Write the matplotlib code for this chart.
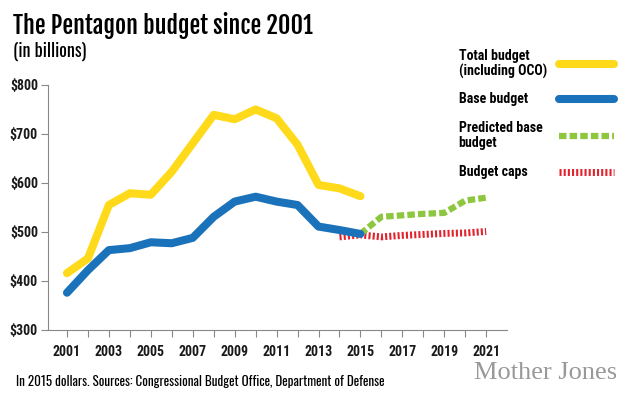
import matplotlib.pyplot as plt
from matplotlib.lines import Line2D

# values (billions, 2015 dollars)
years = list(range(2001, 2016))
total_budget = [416, 446, 555, 579, 576, 623, 681, 739, 730, 750, 732, 678, 596, 589, 573]
base_budget = [376, 422, 463, 467, 479, 477, 488, 531, 562, 572, 562, 555, 511, 504, 496]
pred_years = list(range(2015, 2022))
predicted_base = [496, 531, 534, 537, 539, 564, 570]
cap_years = list(range(2014, 2022))
budget_caps = [490, 494, 490, 493, 495, 497, 498, 501]

yticks = [300, 400, 500, 600, 700, 800]
ytick_labels = ['$300', '$400', '$500', '$600', '$700', '$800']
xlabel_years = list(range(2001, 2022, 2))

YELLOW = '#FFDA1A'
BLUE = '#1A73BA'
GREEN = '#8DC63F'
RED = '#E2232E'
GRAY = '#888888'

FONT = ['Oswald', 'DejaVu Sans']
BOLD = ['Roboto Condensed', 'DejaVu Sans']
TITLE = ['Fjalla One', 'DejaVu Sans']

fig = plt.figure(figsize=(6.3, 3.97), dpi=100)
ax = fig.add_axes([0.0757, 0.1688, 0.7293, 0.6172])

ax.plot(years, total_budget, color=YELLOW, lw=5.8, solid_capstyle='round',
        solid_joinstyle='round', zorder=3)
ax.plot(pred_years, predicted_base, color=GREEN, lw=4.5, dashes=(1.2, 0.5), zorder=2)
ax.plot(cap_years, budget_caps, color=RED, lw=5, dashes=(0.3, 0.3), zorder=1)
ax.plot(years, base_budget, color=BLUE, lw=5.8, solid_capstyle='round',
        solid_joinstyle='round', zorder=4)

all_years = years + pred_years[1:]
ax.set_xlim(2000.08, 2022.0)
ax.set_ylim(300, 800)
ax.set_yticks(yticks)
ax.set_yticklabels(ytick_labels)
ax.set_xticks(all_years)
ax.set_xticklabels([str(y) if y in xlabel_years else '' for y in all_years])

for s in ['top', 'right']:
    ax.spines[s].set_visible(False)
for s in ['left', 'bottom']:
    ax.spines[s].set_color(GRAY)
    ax.spines[s].set_linewidth(0.8)
ax.tick_params(colors=GRAY, length=5, width=0.8)
ax.tick_params(axis='y', pad=2)
ax.tick_params(axis='x', pad=6)
for lab in ax.get_xticklabels() + ax.get_yticklabels():
    lab.set_family(BOLD)
    lab.set_fontweight('bold')
    lab.set_fontsize(10)
    lab.set_color('#1a1a1a')

fig.text(0.02, 0.97, 'The Pentagon budget since 2001', family=TITLE,
         fontsize=17.3, va='top', ha='left', color='black')
fig.text(0.02, 0.895, '(in billions)', family=FONT, fontsize=13, va='top', ha='left',
         color='black')

# legend
legend_items = [
    ('Total budget\n(including OCO)', 0.838, dict(color=YELLOW, lw=5.8, solid_capstyle='round')),
    ('Base budget', 0.750, dict(color=BLUE, lw=5.8, solid_capstyle='round')),
    ('Predicted base\nbudget', 0.658, dict(color=GREEN, lw=4.5, dashes=(1.2, 0.5))),
    ('Budget caps', 0.567, dict(color=RED, lw=5, dashes=(0.3, 0.3))),
]
for label, yl, style in legend_items:
    fig.text(0.728, yl, label, family=BOLD, fontweight='bold', fontsize=10, va='center',
             ha='left', linespacing=1.1, color='black')
    fig.add_artist(Line2D([0.888, 0.975], [yl, yl], transform=fig.transFigure, **style))

fig.text(0.025, 0.038, 'In 2015 dollars. Sources: Congressional Budget Office, Department of Defense',
         family=FONT, fontsize=9.4, va='center', ha='left', color='black')
fig.text(0.98, 0.06, 'Mother Jones', family=['Liberation Serif', 'DejaVu Serif'], fontsize=19,
         va='center', ha='right', color='#999999')

fig.savefig('out.png', dpi=100)
